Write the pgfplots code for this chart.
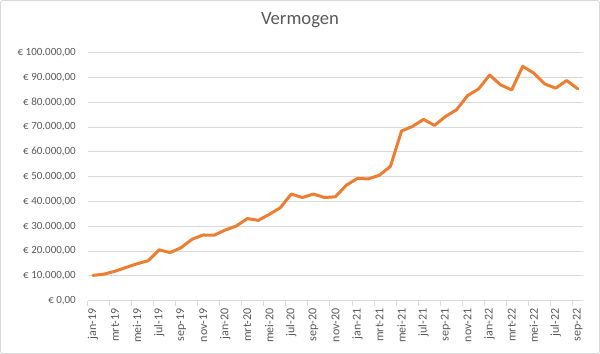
\documentclass[border=0pt]{standalone}
\usepackage{pgfplots}
\pgfplotsset{compat=1.18}
\usepackage{fontspec}
\setmainfont{Carlito}
\definecolor{txtgray}{HTML}{595959}
\definecolor{gridgray}{HTML}{D9D9D9}
\definecolor{exorange}{HTML}{ED7D31}
\begin{document}
\begin{tikzpicture}
\useasboundingbox (0,0) rectangle (600bp,354bp);
\draw[gridgray, line width=0.8bp, rounded corners=2bp] (0.5bp,0.5bp) rectangle (599.5bp,353.5bp);
\begin{axis}[
  at={(87.5bp,53.3bp)}, anchor=south west,
  width=495.8bp, height=248bp, scale only axis,
  xmin=-0.5, xmax=44.5, ymin=0, ymax=100000,
  scaled y ticks=false,
  axis x line*=bottom, axis y line*=left,
  axis line style={-},
  x axis line style={draw=gridgray, line width=0.8bp},
  y axis line style={draw=none},
  xtick={0,2,...,44},
  xticklabels={jan-19,mrt-19,mei-19,jul-19,sep-19,nov-19,jan-20,mrt-20,mei-20,jul-20,sep-20,nov-20,jan-21,mrt-21,mei-21,jul-21,sep-21,nov-21,jan-22,mrt-22,mei-22,jul-22,sep-22},
  minor xtick={-0.5,1.5,...,43.5},
  major tick length=0pt, minor tick length=5bp,
  tick align=outside,
  xtick pos=bottom,
  minor tick style={draw=gridgray, line width=0.8bp},
  ytick={0,10000,...,100000},
  yticklabels={{€ 0,00},{€ 10.000,00},{€ 20.000,00},{€ 30.000,00},{€ 40.000,00},{€ 50.000,00},{€ 60.000,00},{€ 70.000,00},{€ 80.000,00},{€ 90.000,00},{€ 100.000,00}},
  ytick style={draw=none},
  ymajorgrids, major grid style={draw=gridgray, line width=0.8bp},
  xticklabel style={rotate=90, anchor=east, inner ysep=0pt, inner xsep=7.6bp, font=\fontsize{12bp}{14bp}\selectfont, text=txtgray},
  yticklabel style={anchor=east, inner sep=0pt, xshift=-11.5bp, font=\fontsize{11bp}{13bp}\selectfont, text=txtgray},
  title={Vermogen},
  title style={at={(rel axis cs:0.4286,1)}, anchor=base, yshift=22.7bp, font=\fontsize{18.67bp}{22bp}\selectfont, text=txtgray},
  clip=false,
]
\addplot[exorange, line width=3bp, line join=round, line cap=round] coordinates {
(0,10200) (1,10700) (2,11900) (3,13400) (4,14900) (5,16100) (6,20500) (7,19400) (8,21400) (9,24800)
(10,26500) (11,26400) (12,28500) (13,30100) (14,33100) (15,32400) (16,34800) (17,37500) (18,43000) (19,41600)
(20,43000) (21,41600) (22,41900) (23,46600) (24,49300) (25,49100) (26,50600) (27,54200) (28,68400) (29,70300)
(30,73100) (31,70700) (32,74300) (33,77000) (34,82700) (35,85400) (36,91000) (37,87000) (38,85000) (39,94500)
(40,91800) (41,87400) (42,85700) (43,88800) (44,85400)
};
\end{axis}
\end{tikzpicture}
\end{document}
